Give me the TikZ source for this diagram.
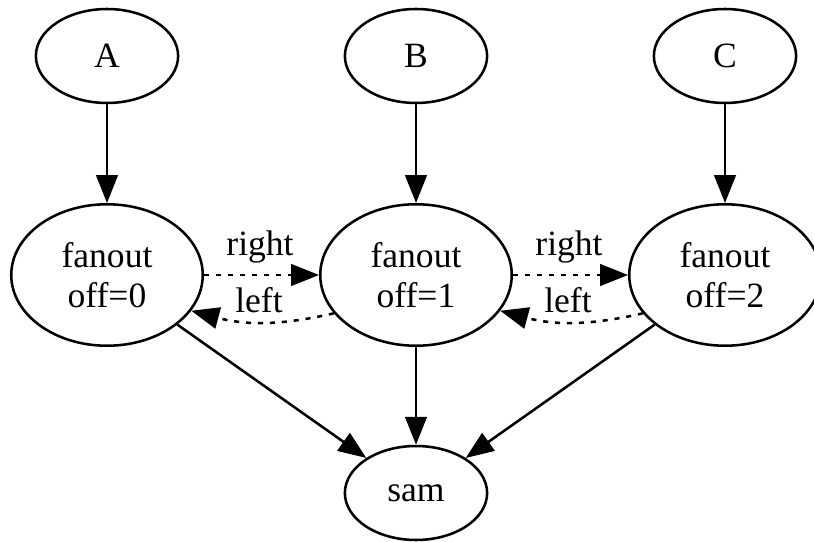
\documentclass[tikz,border=0pt]{standalone}
\usepackage{fontspec}
\setmainfont{Liberation Serif}
\usetikzlibrary{arrows.meta,shapes.geometric}
\tikzset{
 gnode/.style={draw,ellipse,line width=1pt,inner sep=0pt,minimum width=56pt,minimum height=37pt,
   font=\fontsize{14pt}{15.7pt}\selectfont},
 fnode/.style={gnode,align=center,minimum width=75.4pt,minimum height=55.7pt},
 edge/.style={line width=1pt,-{Triangle[length=11pt,width=8.5pt]}},
 dotedge/.style={edge,dash pattern=on 2pt off 2.7pt},
 elabel/.style={font=\fontsize{14pt}{15.7pt}\selectfont,inner sep=0pt}
}
\begin{document}
\begin{tikzpicture}[x=0.3937pt,y=-0.3937pt]
 \clip (0,0) rectangle (814,542);
 \node[gnode] (A) at (107,56) {A};
 \node[gnode] (B) at (416,56) {B};
 \node[gnode] (C) at (725,56) {C};
 \node[fnode] (f0) at (107,275) {fanout\\off=0};
 \node[fnode] (f1) at (416,275) {fanout\\off=1};
 \node[fnode] (f2) at (725,275) {fanout\\off=2};
 \node[gnode] (sam) at (416,493) {sam};
 \draw[edge] (A) -- (f0);
 \draw[edge] (B) -- (f1);
 \draw[edge] (C) -- (f2);
 % neighbours
 \draw[dotedge] (f0.east) -- (f1.west);
 \draw[dotedge] (f1.205) to[bend left=14] (f0.-23.5);
 \draw[dotedge] (f1.east) -- (f2.west);
 \draw[dotedge] (f2.205) to[bend left=14] (f1.-23.5);
 \node[elabel] (r0) at (260,247) {right};
 \node[elabel] (l0) at (259,300) {left};
 \node[elabel] (r1) at (569,247) {right};
 \node[elabel] (l1) at (568,300) {left};
 \draw[edge] (f0) -- (sam);
 \draw[edge] (f1) -- (sam);
 \draw[edge] (f2) -- (sam);
\end{tikzpicture}
\end{document}
